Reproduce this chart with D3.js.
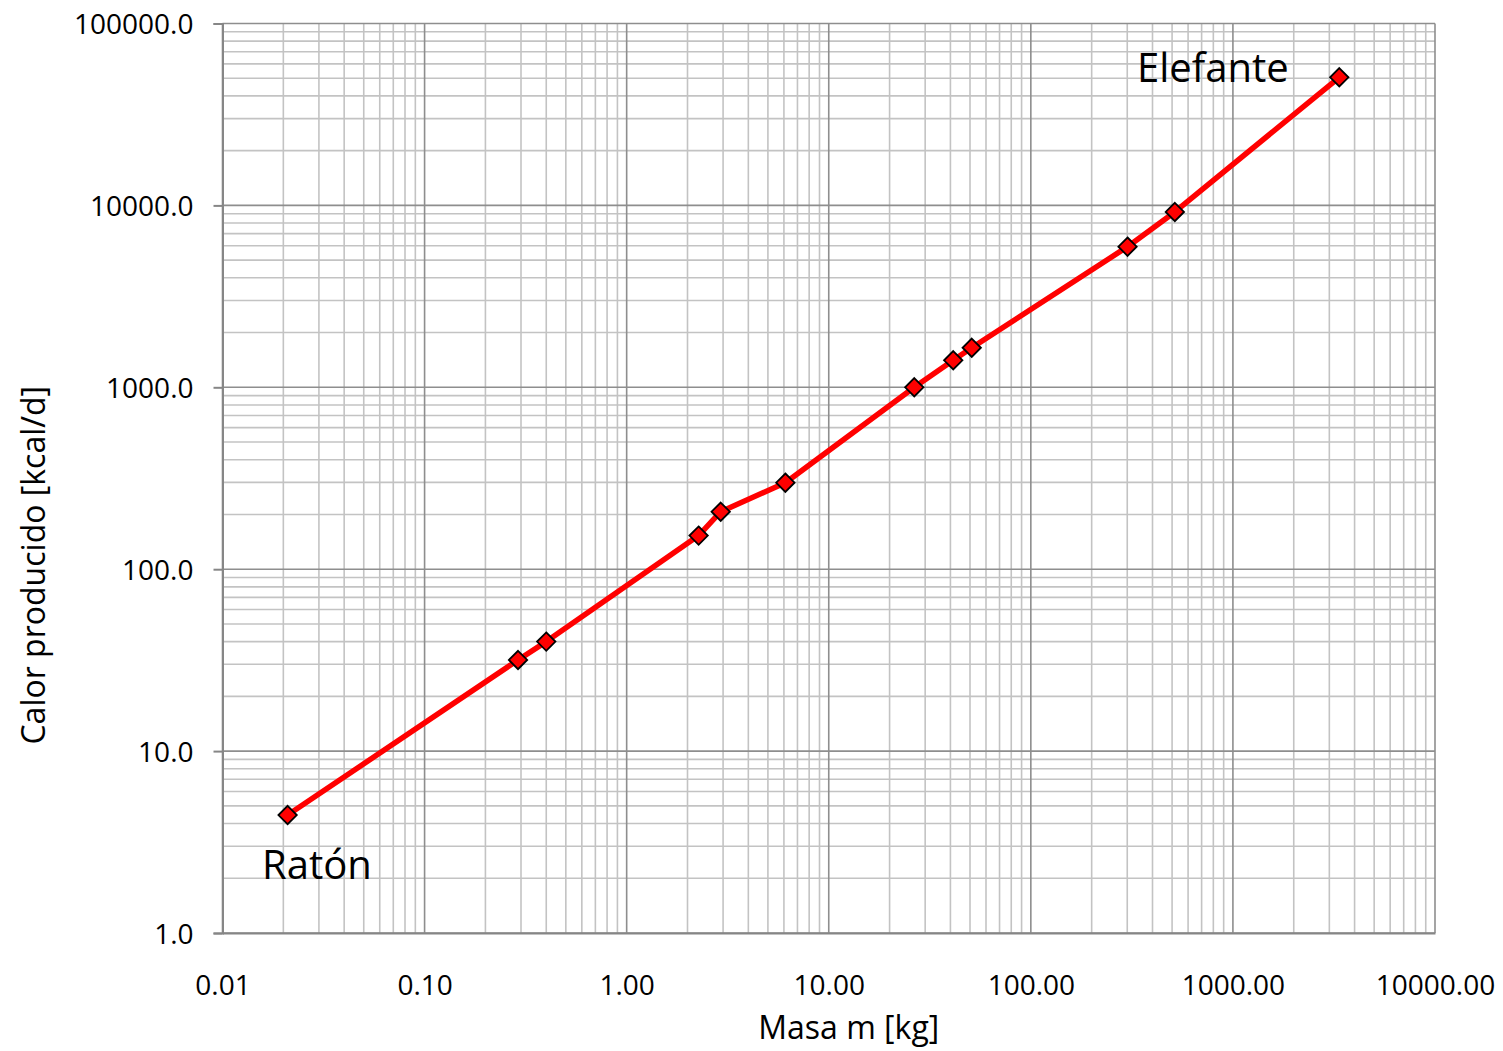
<!DOCTYPE html>
<html>
<head>
<meta charset="utf-8">
<script src="https://cdn.jsdelivr.net/npm/d3@7"></script>
<style>
  body { margin: 0; background: #fff; }
  text { font-family: "Open Sans", sans-serif; fill: #000; }
</style>
</head>
<body>
<div id="chart"></div>
<script>
// datos
var masa  = [0.021, 0.29, 0.40, 2.27, 2.92, 6.1, 26.5, 41.3, 51, 301, 516, 3360];
var calor = [4.45, 31.7, 40, 153, 207, 299, 1000, 1407, 1650, 5930, 9200, 50600];
var xTicks = [0.01, 0.1, 1, 10, 100, 1000, 10000];
var yTicks = [1, 10, 100, 1000, 10000, 100000];
var etiquetas = [
  {text: "Ratón", x: 0.0157, y: 1.98},
  {text: "Elefante", x: 335, y: 47700}
];

var W = 1503, H = 1051;
var margin = {top: 23.5, right: 68, bottom: 118, left: 222.5},
    width = W - margin.left - margin.right,
    height = H - margin.top - margin.bottom;

var xScale = d3.scaleLog().domain([0.01, 10000]).range([0, width]);
var yScale = d3.scaleLog().domain([1, 100000]).range([height, 0]);

var svg = d3.select("#chart").append("svg")
    .attr("width", W)
    .attr("height", H)
  .append("g")
    .attr("transform", "translate(" + margin.left + "," + margin.top + ")");

// valores de la rejilla menor (2..9 en cada decada)
function minors(ticks) {
  var out = [];
  for (var i = 0; i < ticks.length - 1; i++) {
    for (var k = 2; k <= 9; k++) out.push(ticks[i] * k);
  }
  return out;
}

var grid = svg.append("g").attr("class", "grid");

grid.selectAll(".xminor").data(minors(xTicks)).enter().append("line")
  .attr("x1", function(d) { return xScale(d); })
  .attr("x2", function(d) { return xScale(d); })
  .attr("y1", 0).attr("y2", height)
  .style("stroke", "#c3c3c3").style("stroke-width", 1.6);

grid.selectAll(".yminor").data(minors(yTicks)).enter().append("line")
  .attr("y1", function(d) { return yScale(d); })
  .attr("y2", function(d) { return yScale(d); })
  .attr("x1", 0).attr("x2", width)
  .style("stroke", "#c3c3c3").style("stroke-width", 1.6);

grid.selectAll(".xmajor").data(xTicks).enter().append("line")
  .attr("x1", function(d) { return xScale(d); })
  .attr("x2", function(d) { return xScale(d); })
  .attr("y1", 0).attr("y2", height)
  .style("stroke", "#8e8e8e").style("stroke-width", 1.6);

grid.selectAll(".ymajor").data(yTicks).enter().append("line")
  .attr("y1", function(d) { return yScale(d); })
  .attr("y2", function(d) { return yScale(d); })
  .attr("x1", 0).attr("x2", width)
  .style("stroke", "#8e8e8e").style("stroke-width", 1.6);

// ejes
var xAxis = svg.append("g")
  .attr("transform", "translate(0," + height + ")")
  .call(d3.axisBottom(xScale).tickValues(xTicks).tickFormat(d3.format(".2f"))
    .tickSize(0).tickPadding(62));

var yAxis = svg.append("g")
  .call(d3.axisLeft(yScale).tickValues(yTicks).tickFormat(d3.format(".1f"))
    .tickSize(9).tickPadding(20));

svg.selectAll(".domain").style("stroke", "#868686").style("stroke-width", 2);
svg.selectAll(".tick line").style("stroke", "#868686").style("stroke-width", 2);
svg.selectAll(".tick text").style("font-family", "Open Sans").style("font-size", "28px");
xAxis.selectAll(".tick text").attr("dy", "0");
yAxis.selectAll(".tick text").attr("dy", "0.36em");

// serie
var points = masa.map(function(m, i) { return {x: m, y: calor[i]}; });

var line = d3.line()
  .x(function(d) { return xScale(d.x); })
  .y(function(d) { return yScale(d.y); });

svg.append("path")
  .datum(points)
  .attr("d", line)
  .style("fill", "none")
  .style("stroke", "#ff0000")
  .style("stroke-width", 5.5)
  .style("stroke-linejoin", "round");

svg.selectAll(".marker").data(points).enter().append("path")
  .attr("class", "marker")
  .attr("d", d3.symbol().type(d3.symbolDiamond2).size(215))
  .attr("transform", function(d) {
    return "translate(" + xScale(d.x) + "," + yScale(d.y) + ")";
  })
  .style("fill", "#ff0000")
  .style("stroke", "#000")
  .style("stroke-width", 1.8);

// etiquetas
svg.selectAll(".etiqueta").data(etiquetas).enter().append("text")
  .attr("x", function(d) { return xScale(d.x); })
  .attr("y", function(d) { return yScale(d.y); })
  .style("font-size", "40px")
  .text(function(d) { return d.text; });

// titulos
svg.append("text")
  .attr("x", width / 2 + 20)
  .attr("y", height + 106)
  .attr("text-anchor", "middle")
  .style("font-size", "32px")
  .text("Masa m [kg]");

svg.append("text")
  .attr("transform", "translate(" + (-178) + "," + (height / 2 + 87) + ") rotate(-90)")
  .attr("text-anchor", "middle")
  .style("font-size", "32px")
  .text("Calor producido [kcal/d]");
</script>
</body>
</html>
